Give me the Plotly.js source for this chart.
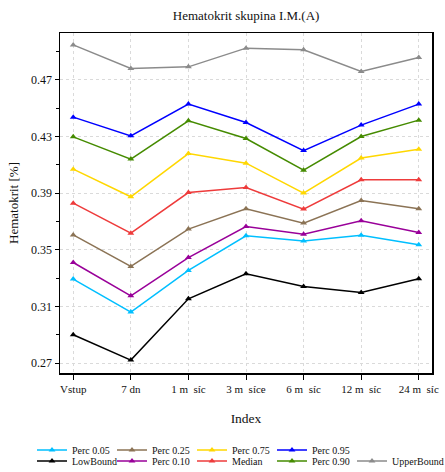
<!DOCTYPE html>
<html>
<head>
<meta charset="utf-8">
<script src="https://cdn.plot.ly/plotly-3.0.1.min.js"></script>
<style>html,body{margin:0;padding:0;background:#fff;}#chart{width:445px;height:472px;}</style>
</head>
<body>
<div id="chart"></div>
<script>
var categories = ["Vstup", "7 dn", "1 m\u00a0\u00a0síc", "3 m\u00a0\u00a0síce", "6 m\u00a0\u00a0síc", "12 m\u00a0\u00a0síc", "24 m\u00a0\u00a0síc"];
var perc05 = [0.3293, 0.3060, 0.3354, 0.3598, 0.3561, 0.3603, 0.3535];
var lowBound = [0.2900, 0.2721, 0.3154, 0.3330, 0.3241, 0.3198, 0.3295];
var perc25 = [0.3605, 0.3382, 0.3646, 0.3789, 0.3688, 0.3848, 0.3789];
var perc10 = [0.3410, 0.3175, 0.3445, 0.3664, 0.3610, 0.3704, 0.3622];
var perc75 = [0.4069, 0.3874, 0.4179, 0.4111, 0.3900, 0.4147, 0.4210];
var median = [0.3829, 0.3617, 0.3904, 0.3939, 0.3787, 0.3994, 0.3994];
var perc95 = [0.4436, 0.4304, 0.4528, 0.4398, 0.4200, 0.4380, 0.4528];
var perc90 = [0.4297, 0.4140, 0.4410, 0.4285, 0.4062, 0.4299, 0.4415];
var upperBound = [0.4946, 0.4779, 0.4791, 0.4923, 0.4911, 0.4758, 0.4857];
var yTicks = [0.27, 0.31, 0.35, 0.39, 0.43, 0.47];

var idx = categories.map(function(_, i){ return i; });
function tr(name, y, color, legend) {
  return {
    x: idx, y: y, name: name, type: 'scatter', mode: 'lines+markers',
    line: {color: color, width: 1.5},
    marker: {symbol: 'triangle-up', size: 6, color: color},
    legend: legend
  };
}
var data = [
  tr('Perc 0.05', perc05, '#00BFFF', 'legend'),
  tr('Perc 0.25', perc25, '#8B7355', 'legend'),
  tr('Perc 0.75', perc75, '#FFD700', 'legend'),
  tr('Perc 0.95', perc95, '#0000FF', 'legend'),
  tr('LowBound', lowBound, '#000000', 'legend2'),
  tr('Perc 0.10', perc10, '#990099', 'legend2'),
  tr('Median', median, '#EE3B3B', 'legend2'),
  tr('Perc 0.90', perc90, '#458B00', 'legend2'),
  tr('UpperBound', upperBound, '#8B8B8B', 'legend3')
];
var serif = 'Liberation Serif, Times New Roman, serif';
var legendBase = {
  orientation: 'h', xref: 'container', yref: 'container',
  xanchor: 'left', yanchor: 'middle',
  font: {family: serif, size: 10, color: '#111'},
  entrywidth: 35, entrywidthmode: 'pixels',
  bgcolor: 'rgba(0,0,0,0)', borderwidth: 0, tracegroupgap: 0,
  itemwidth: 30
};
var layout = {
  width: 445, height: 472,
  margin: {l: 60, r: 13, t: 33, b: 99},
  paper_bgcolor: '#fff', plot_bgcolor: '#fff',
  font: {family: serif, color: '#111'},
  title: {text: 'Hematokrit skupina I.M.(A)', font: {family: serif, size: 13, color: '#111'}, x: 0.553, xanchor: 'center', y: 0.968, yanchor: 'middle'},
  xaxis: {
    range: [-0.23, 6.23], tickmode: 'array', tickvals: idx, ticktext: categories,
    ticks: 'outside', ticklen: 5, tickcolor: '#000', tickfont: {family: serif, size: 11, color: '#111'},
    showline: true, linecolor: '#000', linewidth: 1.5, mirror: true,
    showgrid: true, gridcolor: '#dadada', griddash: 'dot', gridwidth: 1,
    zeroline: false,
    title: {text: 'Index', font: {family: serif, size: 13.5, color: '#111'}, standoff: 20}
  },
  yaxis: {
    range: [0.263, 0.503], tickmode: 'array', tickvals: yTicks, ticktext: yTicks.map(function(v){return v.toFixed(2);}),
    ticks: 'outside', ticklen: 4, tickcolor: '#000', tickfont: {family: serif, size: 12, color: '#111'},
    showline: true, linecolor: '#000', linewidth: 1.5, mirror: true,
    showgrid: true, gridcolor: '#dadada', griddash: 'dot', gridwidth: 1,
    zeroline: false,
    minor: {tickmode: 'linear', tick0: 0.27, dtick: 0.02, ticks: 'outside', ticklen: 3, tickcolor: '#000', showgrid: false},
    title: {text: 'Hematokrit [%]', font: {family: serif, size: 13, color: '#111'}, standoff: 9}
  },
  showlegend: true,
  legend: Object.assign({}, legendBase, {x: 32/445, y: 1 - 450/472}),
  legend2: Object.assign({}, legendBase, {x: 32/445, y: 1 - 461/472}),
  legend3: Object.assign({}, legendBase, {x: 1, xanchor: 'right', entrywidth: 48, y: 1 - 461/472})
};
Plotly.newPlot('chart', data, layout, {staticPlot: true, displayModeBar: false});
</script>
</body>
</html>
